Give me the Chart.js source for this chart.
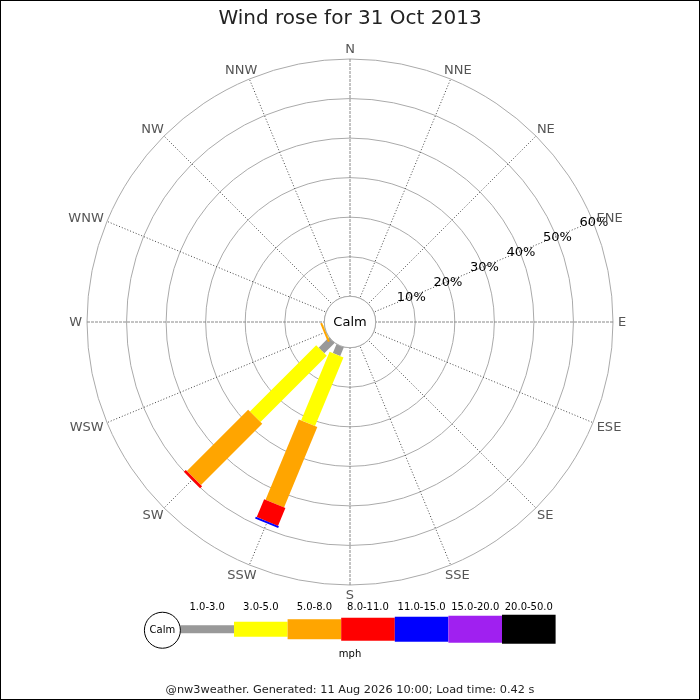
<!DOCTYPE html>
<html>
<head>
<meta charset="utf-8">
<title>Wind rose for 31 Oct 2013</title>
<script src="https://cdn.jsdelivr.net/npm/chart.js@4.4.1/dist/chart.umd.min.js"></script>
<style>
  html, body { margin: 0; padding: 0; background: #fff; }
  canvas { display: block; }
</style>
</head>
<body>
<canvas id="rose" width="700" height="700"></canvas>
<script>
// compass points, clockwise from north
const directions = ['N', 'NNE', 'NE', 'ENE', 'E', 'ESE', 'SE', 'SSE',
                    'S', 'SSW', 'SW', 'WSW', 'W', 'WNW', 'NW', 'NNW'];
const speedLabels = ['1.0-3.0', '3.0-5.0', '5.0-8.0', '8.0-11.0', '11.0-15.0', '15.0-20.0', '20.0-50.0'];

// % of time per direction, one array per speed band (mph)
const speed1to3   = [0, 0, 0, 0, 0, 0, 0, 0, 0, 2.4, 3.7, 0, 0, 0, 0, 0];
const speed3to5   = [0, 0, 0, 0, 0, 0, 0, 0, 0, 18.8, 23.7, 0.1, 0, 0, 0, 0];
const speed5to8   = [0, 0, 0, 0, 0, 0, 0, 0, 0, 22.0, 21.9, 0.5, 0, 0, 0, 0];
const speed8to11  = [0, 0, 0, 0, 0, 0, 0, 0, 0, 4.9, 0.7, 0, 0, 0, 0, 0];
const speed11to15 = [0, 0, 0, 0, 0, 0, 0, 0, 0, 0.5, 0, 0, 0, 0, 0, 0];
const speed15to20 = [0, 0, 0, 0, 0, 0, 0, 0, 0, 0, 0, 0, 0, 0, 0, 0];
const speed20to50 = [0, 0, 0, 0, 0, 0, 0, 0, 0, 0, 0, 0, 0, 0, 0, 0];

const ringTicks = [0, 10, 20, 30, 40, 50, 60];
const tickLabels = ['10%', '20%', '30%', '40%', '50%', '60%'];

// styling
const bandColours = ['#999999', '#ffff00', '#ffa500', '#ff0000', '#0000ff', '#a020f0', '#000000'];
const bandWidths = [8, 15, 20, 23, 25, 27, 29];
const FONT = '"DejaVu Sans", sans-serif';

Chart.defaults.font.family = FONT;

const bandData = [speed1to3, speed3to5, speed5to8, speed8to11, speed11to15, speed15to20, speed20to50];

const rosePlugin = {
    id: 'rose',
    afterDatasetsDraw(chart) {
        const ctx = chart.ctx;
        const r = chart.scales.r;
        ctx.save();

        // stacked bars along each direction
        ctx.lineCap = 'butt';
        directions.forEach((d, i) => {
            let base = 0;
            chart.data.datasets.forEach((ds, k) => {
                const v = ds.data[i];
                if (!v) return;
                const a = r.getPointPositionForValue(i, base);
                const b = r.getPointPositionForValue(i, base + v);
                ctx.strokeStyle = bandColours[k];
                ctx.lineWidth = bandWidths[k];
                ctx.beginPath();
                ctx.moveTo(a.x, a.y);
                ctx.lineTo(b.x, b.y);
                ctx.stroke();
                base += v;
            });
        });

        // calm circle
        const calmR = r.getDistanceFromCenterForValue(0);
        ctx.beginPath();
        ctx.arc(r.xCenter, r.yCenter, calmR, 0, Math.PI * 2);
        ctx.fillStyle = '#fff';
        ctx.fill();
        ctx.strokeStyle = '#aaaaaa';
        ctx.lineWidth = 1;
        ctx.stroke();

        ctx.textAlign = 'center';
        ctx.textBaseline = 'middle';
        ctx.font = '13px ' + FONT;
        ctx.fillStyle = '#000';
        ctx.fillText('Calm', r.xCenter, r.yCenter + 1);

        // ring labels along ENE
        ringTicks.slice(1).forEach((t, j) => {
            const p = r.getPointPositionForValue(3, t);
            ctx.fillText(tickLabels[j], p.x + 1, p.y + 1);
        });

        // compass labels
        ctx.fillStyle = '#555';
        directions.forEach((d, i) => {
            const ang = r.getIndexAngle(i);
            const p = r.getPointPosition(i, r.drawingArea + 5);
            const w = ctx.measureText(d).width;
            ctx.fillText(d, p.x + Math.sin(ang) * w / 2, p.y - Math.cos(ang) * 5 + 1);
        });
        ctx.restore();
    },
    afterDraw(chart) {
        const ctx = chart.ctx;
        const y = chart.chartArea.bottom + 44;
        const segW = 53.6;
        const circR = 18;
        const x0 = 350 - (circR * 2 + segW * bandColours.length) / 2 + circR * 2;
        ctx.save();

        // speed legend
        ctx.font = '10px ' + FONT;
        ctx.textAlign = 'center';
        ctx.textBaseline = 'middle';
        bandColours.forEach((c, k) => {
            const x = x0 + k * segW;
            const h = bandWidths[k];
            ctx.fillStyle = c;
            ctx.fillRect(x, y - h / 2, segW, h);
            ctx.fillStyle = '#000';
            ctx.fillText(speedLabels[k], x + segW / 2, y - 22);
        });
        ctx.beginPath();
        ctx.arc(x0 - circR, y + 1, circR, 0, Math.PI * 2);
        ctx.fillStyle = '#fff';
        ctx.fill();
        ctx.strokeStyle = '#000';
        ctx.lineWidth = 1;
        ctx.stroke();
        ctx.fillStyle = '#000';
        ctx.fillText('Calm', x0 - circR, y + 1);
        ctx.fillText('mph', 350, y + 25);

        // frame
        ctx.strokeStyle = '#000';
        ctx.strokeRect(0.5, 0.5, 699, 699);
        ctx.restore();
    }
};

const ctx = document.getElementById('rose').getContext('2d');
const chart = new Chart(ctx, {
    type: 'radar',
    data: {
        labels: directions,
        datasets: bandData.map((d, k) => ({
            label: speedLabels[k],
            data: d,
            showLine: false,
            fill: false,
            borderWidth: 0,
            pointRadius: 0,
            pointHoverRadius: 0,
            backgroundColor: bandColours[k],
            borderColor: bandColours[k]
        }))
    },
    options: {
        responsive: false,
        animation: false,
        layout: {
            padding: { left: 87, right: 87, top: 0, bottom: 0 }
        },
        plugins: {
            legend: { display: false },
            tooltip: { enabled: false },
            title: {
                display: true,
                text: 'Wind rose for 31 Oct 2013',
                color: '#222',
                font: { size: 20, weight: 'normal' },
                padding: { top: 7, bottom: 28 }
            },
            subtitle: {
                display: true,
                position: 'bottom',
                text: '@nw3weather. Generated: 11 Aug 2026 10:00; Load time: 0.42 s',
                color: '#222',
                font: { size: 11.3 },
                padding: { top: 98, bottom: 3.2 }
            }
        },
        scales: {
            r: {
                min: -6.5,
                max: 60,
                afterBuildTicks: s => { s.ticks = ringTicks.map(v => ({ value: v })); },
                ticks: { display: false },
                pointLabels: { display: false },
                grid: { circular: true, color: '#aaaaaa', lineWidth: 1 },
                angleLines: {
                    color: c => (c.index % 4 === 0 ? '#888' : '#444'),
                    borderDash: c => (c.index % 4 === 0 ? [3, 1] : [1, 2]),
                    lineWidth: 1
                }
            }
        }
    },
    plugins: [rosePlugin]
});
</script>
</body>
</html>
